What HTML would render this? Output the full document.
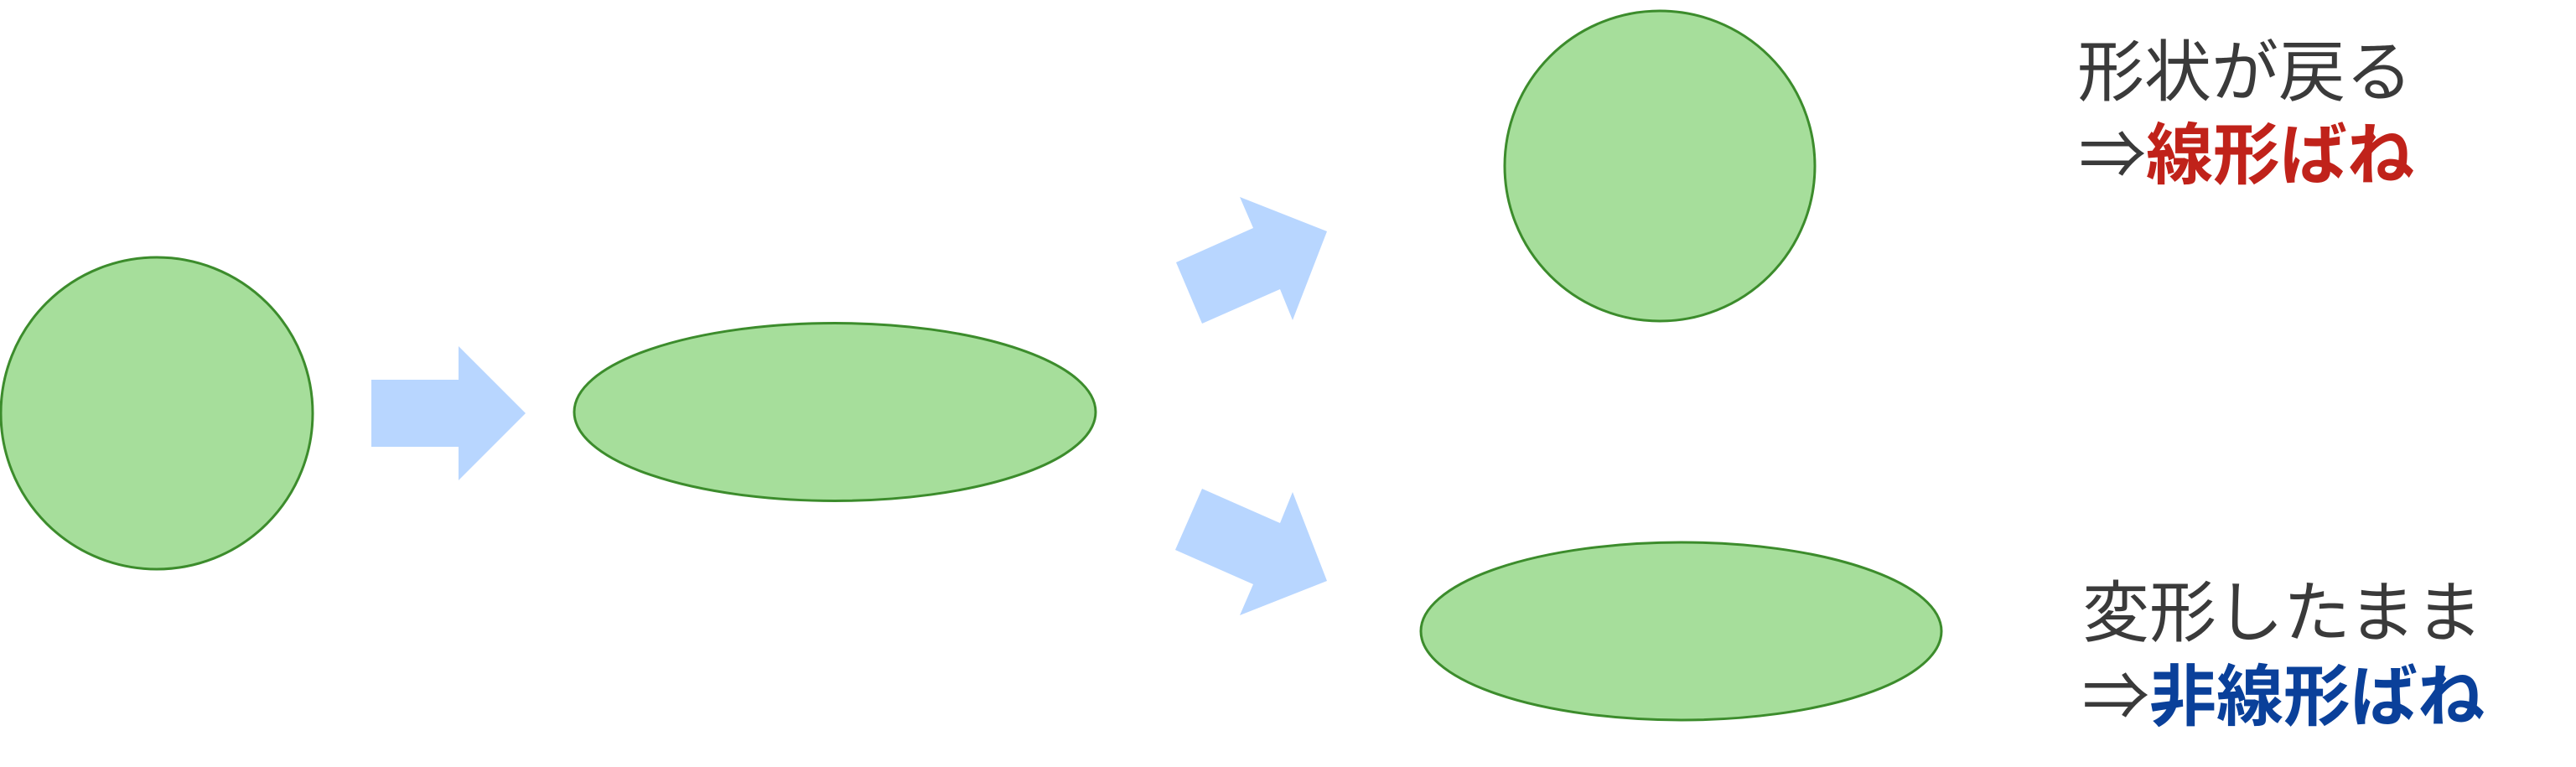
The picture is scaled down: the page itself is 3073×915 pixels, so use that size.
<!DOCTYPE html>
<html><head><meta charset="utf-8"><style>
html,body{margin:0;padding:0;background:#fff;}
svg{display:block;}
text{font-family:"Liberation Sans","Noto Sans CJK JP",sans-serif;font-size:80px;}
</style></head><body>
<svg width="3073" height="915" viewBox="0 0 3073 915" xmlns="http://www.w3.org/2000/svg">
<g fill="#a6de9b" stroke="#3c8c2c" stroke-width="3">
<circle cx="187" cy="493" r="186"/>
<ellipse cx="996" cy="491.5" rx="311" ry="106"/>
<circle cx="1980" cy="198" r="185"/>
<ellipse cx="2005.5" cy="753" rx="310.5" ry="106"/>
</g>
<g fill="#b8d6ff">
<polygon points="443,453 547,453 547,413 627,493 547,573 547,533 443,533"/>
<polygon points="1403,313 1495,272 1479,235 1583,276 1542,382 1527,345 1434,386"/>
<polygon points="1434,583 1527,624 1542,587 1583,693 1479,734 1495,697 1402,656"/>
</g>
<text x="2478" y="114" fill="#3a3a3a">形状が戻る</text>
<text x="2480" y="213" fill="#3a3a3a">⇒<tspan fill="#c0221a" font-weight="bold">線形ばね</tspan></text>
<text x="2484" y="759" fill="#3a3a3a">変形したまま</text>
<text x="2484" y="859" fill="#3a3a3a">⇒<tspan fill="#0a409a" font-weight="bold">非線形ばね</tspan></text>
</svg>
</body></html>
